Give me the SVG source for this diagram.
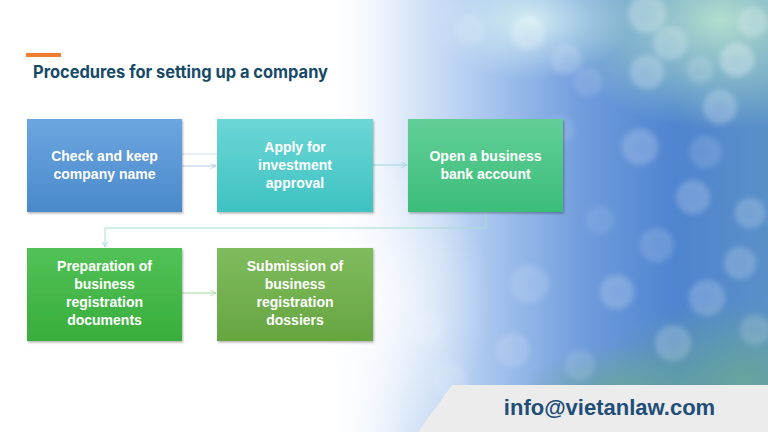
<svg xmlns="http://www.w3.org/2000/svg" width="768" height="432" viewBox="0 0 768 432">
<defs>
<linearGradient id="bgH" x1="0" y1="0" x2="1" y2="0">
<stop offset="0" stop-color="#ffffff" stop-opacity="0"/>
<stop offset="0.42" stop-color="#ffffff" stop-opacity="0"/>
<stop offset="0.53" stop-color="#d6e5f8" stop-opacity="0.9"/>
<stop offset="0.64" stop-color="#a6c4ee"/>
<stop offset="0.76" stop-color="#6f9cdc"/>
<stop offset="0.88" stop-color="#4f84cf"/>
<stop offset="1" stop-color="#5a90c8"/>
</linearGradient>
<radialGradient id="tr" cx="0.5" cy="0.5" r="0.5">
<stop offset="0" stop-color="#b8e2cf" stop-opacity="0.95"/>
<stop offset="0.6" stop-color="#9fd2c8" stop-opacity="0.5"/>
<stop offset="1" stop-color="#9fd2c8" stop-opacity="0"/>
</radialGradient>
<radialGradient id="tc" cx="0.5" cy="0.5" r="0.5">
<stop offset="0" stop-color="#d8f2f2" stop-opacity="0.9"/>
<stop offset="1" stop-color="#d8f2f2" stop-opacity="0"/>
</radialGradient>
<radialGradient id="br" cx="0.5" cy="0.5" r="0.5">
<stop offset="0" stop-color="#6aa894" stop-opacity="0.85"/>
<stop offset="1" stop-color="#6aa894" stop-opacity="0"/>
</radialGradient>
<radialGradient id="lw" cx="0.5" cy="0.5" r="0.5">
<stop offset="0" stop-color="#ffffff" stop-opacity="0.7"/>
<stop offset="1" stop-color="#ffffff" stop-opacity="0"/>
</radialGradient>
<radialGradient id="bk" cx="0.5" cy="0.5" r="0.5">
<stop offset="0" stop-color="#ffffff" stop-opacity="0.55"/>
<stop offset="0.8" stop-color="#ffffff" stop-opacity="0.7"/>
<stop offset="1" stop-color="#ffffff" stop-opacity="0.3"/>
</radialGradient>
<linearGradient id="g1" x1="0" y1="0" x2="0" y2="1"><stop offset="0" stop-color="#6ca6e0"/><stop offset="1" stop-color="#4a89cb"/></linearGradient>
<linearGradient id="g2" x1="0" y1="0" x2="0" y2="1"><stop offset="0" stop-color="#6cd6d6"/><stop offset="1" stop-color="#3fc2c2"/></linearGradient>
<linearGradient id="g3" x1="0" y1="0" x2="0" y2="1"><stop offset="0" stop-color="#62cf98"/><stop offset="1" stop-color="#3bbd79"/></linearGradient>
<linearGradient id="g4" x1="0" y1="0" x2="0" y2="1"><stop offset="0" stop-color="#52c256"/><stop offset="1" stop-color="#39ad3d"/></linearGradient>
<linearGradient id="g5" x1="0" y1="0" x2="0" y2="1"><stop offset="0" stop-color="#80bc5e"/><stop offset="1" stop-color="#66a540"/></linearGradient>
<filter id="blur" x="-50%" y="-50%" width="200%" height="200%"><feGaussianBlur stdDeviation="2.5"/></filter>
<filter id="sh" x="-10%" y="-10%" width="130%" height="130%"><feDropShadow dx="1" dy="1.5" stdDeviation="1.2" flood-color="#000" flood-opacity="0.3"/></filter>
<marker id="arr" viewBox="0 0 10 10" refX="9" refY="5" markerWidth="7" markerHeight="7" orient="auto" markerUnits="userSpaceOnUse">
<path d="M1,1 L9,5 L1,9" fill="none" stroke="#9fd4dc" stroke-width="1.2"/>
</marker>
<marker id="arrb" viewBox="0 0 10 10" refX="9" refY="5" markerWidth="7" markerHeight="7" orient="auto" markerUnits="userSpaceOnUse">
<path d="M1,1 L9,5 L1,9" fill="none" stroke="#b3cbe8" stroke-width="1.2"/>
</marker>
<marker id="arrg" viewBox="0 0 10 10" refX="9" refY="5" markerWidth="7" markerHeight="7" orient="auto" markerUnits="userSpaceOnUse">
<path d="M1,1 L9,5 L1,9" fill="none" stroke="#a8d8a8" stroke-width="1.2"/>
</marker>
<style>
.box{filter:url(#sh)}
.lbl{font-family:"Liberation Sans",Arial,sans-serif;font-weight:bold;font-size:14px;fill:#ffffff;text-anchor:middle}
.con{fill:none;stroke-width:1}
.bk{fill:url(#bk);filter:url(#blur)}
</style>
</defs>
<g id="background">
<rect x="0" y="0" width="768" height="432" fill="#ffffff"/>
<rect x="0" y="0" width="768" height="432" fill="url(#bgH)"/>
<ellipse cx="720" cy="20" rx="170" ry="110" fill="url(#tr)"/>
<ellipse cx="530" cy="20" rx="100" ry="60" fill="url(#tc)"/>
<ellipse cx="740" cy="380" rx="150" ry="80" fill="url(#br)"/>
<ellipse cx="620" cy="395" rx="100" ry="50" fill="url(#br)"/>
<ellipse cx="380" cy="300" rx="110" ry="140" fill="url(#lw)"/>
<g>
<circle class="bk" cx="528" cy="33" r="18" opacity="0.35"/>
<circle class="bk" cx="647" cy="14" r="20" opacity="0.4"/>
<circle class="bk" cx="670" cy="43" r="18" opacity="0.35"/>
<circle class="bk" cx="737" cy="60" r="18" opacity="0.45"/>
<circle class="bk" cx="753" cy="22" r="16" opacity="0.35"/>
<circle class="bk" cx="647" cy="72" r="18" opacity="0.35"/>
<circle class="bk" cx="567" cy="60" r="16" opacity="0.25"/>
<circle class="bk" cx="588" cy="82" r="15" opacity="0.2"/>
<circle class="bk" cx="720" cy="107" r="18" opacity="0.35"/>
<circle class="bk" cx="700" cy="70" r="14" opacity="0.25"/>
<circle class="bk" cx="640" cy="147" r="19" opacity="0.3"/>
<circle class="bk" cx="705" cy="152" r="17" opacity="0.2"/>
<circle class="bk" cx="693" cy="197" r="18" opacity="0.3"/>
<circle class="bk" cx="750" cy="213" r="16" opacity="0.3"/>
<circle class="bk" cx="657" cy="245" r="18" opacity="0.22"/>
<circle class="bk" cx="740" cy="263" r="17" opacity="0.3"/>
<circle class="bk" cx="617" cy="292" r="18" opacity="0.3"/>
<circle class="bk" cx="707" cy="298" r="19" opacity="0.3"/>
<circle class="bk" cx="530" cy="284" r="20" opacity="0.22"/>
<circle class="bk" cx="673" cy="343" r="19" opacity="0.3"/>
<circle class="bk" cx="513" cy="350" r="18" opacity="0.22"/>
<circle class="bk" cx="427" cy="327" r="18" opacity="0.18"/>
<circle class="bk" cx="580" cy="365" r="16" opacity="0.2"/>
<circle class="bk" cx="755" cy="330" r="16" opacity="0.25"/>
<circle class="bk" cx="600" cy="220" r="15" opacity="0.15"/>
<circle class="bk" cx="560" cy="130" r="15" opacity="0.15"/>
<circle class="bk" cx="470" cy="30" r="16" opacity="0.2"/>
<circle class="bk" cx="450" cy="380" r="18" opacity="0.2"/>
</g>
</g>
<g id="banner">
<polygon points="418,432 452,385 768,385 768,432" fill="#ececec"/>
<text x="609.5" y="415" font-family="'Liberation Sans',Arial,sans-serif" font-weight="bold" font-size="22" fill="#1f4e79" text-anchor="middle">info@vietanlaw.com</text>
</g>
<g id="title">
<rect x="26" y="53" width="35" height="4" fill="#f07c30"/>
<text x="33" y="78" font-family="Inter,'Liberation Sans',sans-serif" font-weight="bold" font-size="17" fill="#174a68" textLength="295" lengthAdjust="spacingAndGlyphs">Procedures for setting up a company</text>
</g>
<g id="connectors">
<line class="con" x1="182" y1="154" x2="217" y2="154" stroke="#d3e0f0"/>
<line class="con" x1="182" y1="166" x2="216" y2="166" stroke="#b3cbe8" marker-end="url(#arrb)"/>
<line class="con" x1="373" y1="165" x2="407" y2="165" stroke="#9fd4dc" marker-end="url(#arr)"/>
<polyline class="con" points="486,212 486,228 105,228 105,247" stroke="#a8dcd0" marker-end="url(#arr)"/>
<line class="con" x1="182" y1="293" x2="216" y2="293" stroke="#a8d8a8" marker-end="url(#arrg)"/>
</g>
<g id="node1">
<rect class="box" x="27" y="119" width="155" height="93" fill="url(#g1)"/>
<text class="lbl" x="104.5" y="161">Check and keep</text>
<text class="lbl" x="104.5" y="179">company name</text>
</g>
<g id="node2">
<rect class="box" x="217" y="119" width="156" height="93" fill="url(#g2)"/>
<text class="lbl" x="295" y="152">Apply for</text>
<text class="lbl" x="295" y="170">investment</text>
<text class="lbl" x="295" y="188">approval</text>
</g>
<g id="node3">
<rect class="box" x="408" y="119" width="155" height="93" fill="url(#g3)"/>
<text class="lbl" x="485.5" y="161">Open a business</text>
<text class="lbl" x="485.5" y="179">bank account</text>
</g>
<g id="node4">
<rect class="box" x="27" y="248" width="155" height="93" fill="url(#g4)"/>
<text class="lbl" x="104.5" y="271">Preparation of</text>
<text class="lbl" x="104.5" y="289">business</text>
<text class="lbl" x="104.5" y="307">registration</text>
<text class="lbl" x="104.5" y="325">documents</text>
</g>
<g id="node5">
<rect class="box" x="217" y="248" width="156" height="93" fill="url(#g5)"/>
<text class="lbl" x="295" y="271">Submission of</text>
<text class="lbl" x="295" y="289">business</text>
<text class="lbl" x="295" y="307">registration</text>
<text class="lbl" x="295" y="325">dossiers</text>
</g>
</svg>
